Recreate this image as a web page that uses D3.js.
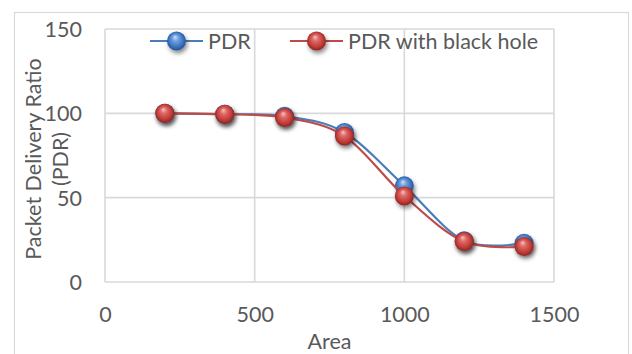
<!DOCTYPE html>
<html><head><meta charset="utf-8">
<script src="https://cdn.jsdelivr.net/npm/d3@7"></script>
<style>body{margin:0;background:#fff}svg{display:block}</style>
</head><body><svg id="chart" width="632" height="354"></svg>
<script>
// Packet delivery ratio against network area, with and without a black-hole node
const areas = [200, 400, 600, 800, 1000, 1200, 1400];
const pdr = [100, 99.5, 98.3, 88.7, 57, 24.5, 23];
const pdrBlackHole = [100, 99.5, 97.5, 86.5, 51, 24, 21];
const xTicks = [0, 500, 1000, 1500];
const yTicks = [0, 50, 100, 150];
const seriesNames = ["PDR", "PDR with black hole"];
const yTitleLines = ["Packet Delivery Ratio", "(PDR)"];
const xTitle = "Area";

const W = 632, H = 354;
const plot = {left: 105, right: 554, top: 29, bottom: 282};
const font = "Lato, 'Open Sans', sans-serif";
const fontSize = "21.5px";
const textColor = "#595959";
const gridColor = "#d9d9d9";

const svg = d3.select("#chart");
const defs = svg.append("defs");

const x = d3.scaleLinear().domain([0, 1500]).range([plot.left, plot.right]);
const y = d3.scaleLinear().domain([0, 150]).range([plot.bottom, plot.top]);

// Sphere-look marker fills
const palettes = [
  {id: "ballBlue", line: "#4a7ebb", stops: ["#cfe2fa", "#6fa2e0", "#3a72bd", "#1f4b86"]},
  {id: "ballRed", line: "#be4b48", stops: ["#f7c4c2", "#dd6a66", "#c03b37", "#7f1d1b"]}
];
palettes.forEach(p => {
  const g = defs.append("radialGradient").attr("id", p.id)
    .attr("cx", "50%").attr("cy", "50%").attr("r", "55%")
    .attr("fx", "42%").attr("fy", "28%");
  g.append("stop").attr("offset", "0%").attr("stop-color", p.stops[0]);
  g.append("stop").attr("offset", "30%").attr("stop-color", p.stops[1]);
  g.append("stop").attr("offset", "70%").attr("stop-color", p.stops[2]);
  g.append("stop").attr("offset", "100%").attr("stop-color", p.stops[3]);
});
const shadow = defs.append("filter").attr("id", "ballShadow")
  .attr("x", "-60%").attr("y", "-60%").attr("width", "220%").attr("height", "220%");
shadow.append("feDropShadow").attr("dx", 1.5).attr("dy", 3).attr("stdDeviation", 2)
  .attr("flood-color", "#000").attr("flood-opacity", 0.45);

// Chart frame
svg.append("rect").attr("x", 14.5).attr("y", 12.5).attr("width", 614).attr("height", 360)
  .attr("fill", "#fff").attr("stroke", gridColor).attr("stroke-width", 1.2);

// Gridlines and plot border
const grid = svg.append("g").attr("stroke", gridColor).attr("stroke-width", 1.6).attr("fill", "none");
grid.selectAll(".gy").data(yTicks).join("line")
  .attr("x1", plot.left).attr("x2", plot.right)
  .attr("y1", d => y(d)).attr("y2", d => y(d));
grid.selectAll(".gx").data(xTicks).join("line")
  .attr("y1", plot.top).attr("y2", plot.bottom)
  .attr("x1", d => x(d)).attr("x2", d => x(d));

// Axes (labels only, Excel-style)
const yAxis = svg.append("g").attr("transform", `translate(${plot.left - 23},0)`)
  .call(d3.axisLeft(y).tickValues(yTicks).tickSize(0).tickPadding(0).tickFormat(d3.format("d")));
const xAxis = svg.append("g").attr("transform", `translate(0,${plot.bottom + 23})`)
  .call(d3.axisBottom(x).tickValues(xTicks).tickSize(0).tickPadding(0).tickFormat(d3.format("d")));
[yAxis, xAxis].forEach(a => {
  a.select(".domain").remove();
  a.selectAll("text").attr("fill", textColor).style("font-family", font).style("font-size", fontSize);
});
yAxis.selectAll("text").attr("dy", "0.35em");
xAxis.selectAll("text").attr("dy", "0.8em");

// Axis titles
svg.append("text").attr("x", (plot.left + plot.right) / 2).attr("y", 349)
  .attr("text-anchor", "middle").attr("fill", textColor)
  .style("font-family", font).style("font-size", fontSize).text(xTitle);
const yt = svg.append("text").attr("transform", `translate(41,159) rotate(-90)`)
  .attr("text-anchor", "middle").attr("fill", textColor)
  .style("font-family", font).style("font-size", fontSize);
yTitleLines.forEach((t, i) => yt.append("tspan").attr("x", 0).attr("dy", i ? 27 : 0).text(t));

// Series
const line = d3.line().x(d => x(d[0])).y(d => y(d[1])).curve(d3.curveCardinal.tension(0));
const series = [pdr, pdrBlackHole].map((vals, i) => ({
  name: seriesNames[i], pal: palettes[i], pts: areas.map((a, j) => [a, vals[j]])
}));
series.forEach(s => {
  const g = svg.append("g");
  g.append("path").attr("d", line(s.pts)).attr("fill", "none")
    .attr("stroke", s.pal.line).attr("stroke-width", 2.2);
  g.selectAll("circle").data(s.pts).join("circle")
    .attr("cx", d => x(d[0])).attr("cy", d => y(d[1])).attr("r", 9.5)
    .attr("fill", `url(#${s.pal.id})`).attr("filter", "url(#ballShadow)");
});

// Legend
const legendY = 41;
const legendItems = [{x0: 150, x1: 203, tx: 208}, {x0: 290, x1: 343, tx: 348}];
series.forEach((s, i) => {
  const L = legendItems[i];
  const g = svg.append("g");
  g.append("line").attr("x1", L.x0).attr("x2", L.x1).attr("y1", legendY).attr("y2", legendY)
    .attr("stroke", s.pal.line).attr("stroke-width", 2.2);
  g.append("circle").attr("cx", (L.x0 + L.x1) / 2).attr("cy", legendY).attr("r", 9.5)
    .attr("fill", `url(#${s.pal.id})`).attr("filter", "url(#ballShadow)");
  g.append("text").attr("x", L.tx).attr("y", legendY).attr("dy", "0.35em")
    .attr("fill", textColor).style("font-family", font).style("font-size", fontSize).text(s.name);
});
</script></body></html>
